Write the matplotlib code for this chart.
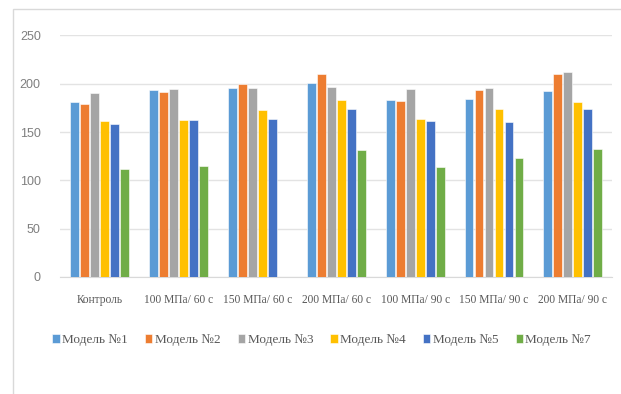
import numpy as np
import matplotlib.pyplot as plt
from matplotlib.patches import Rectangle

# Группы (режимы обработки) и значения по моделям
groups = ["Контроль", "100 МПа/ 60 с", "150 МПа/ 60 с", "200 МПа/ 60 с",
          "100 МПа/ 90 с", "150 МПа/ 90 с", "200 МПа/ 90 с"]
series_names = ["Модель №1", "Модель №2", "Модель №3",
                "Модель №4", "Модель №5", "Модель №7"]
model1 = [181, 194, 196, 201, 183, 184, 192]
model2 = [179, 191, 200, 210, 182, 194, 210]
model3 = [190, 195, 196, 197, 195, 196, 212]
model4 = [161, 163, 173, 183, 164, 174, 181]
model5 = [158, 163, 164, 174, 161, 160, 174]
model7 = [112, 115, np.nan, 131, 114, 123, 132]
colors = ["#5B9BD5", "#ED7D31", "#A5A5A5", "#FFC000", "#4472C4", "#70AD47"]
yticks = [0, 50, 100, 150, 200, 250]

series = [model1, model2, model3, model4, model5, model7]

fig = plt.figure(figsize=(6.21, 3.94), dpi=100)
ax = fig.add_axes([0.097, 0.297, 0.889, 0.613])

x = np.arange(len(groups))
pitch = 0.127
width = 0.112
for i, (vals, name, c) in enumerate(zip(series, series_names, colors)):
    offs = (i - (len(series) - 1) / 2) * pitch
    ax.bar(x + offs, vals, width, color=c, label=name,
           edgecolor="white", linewidth=0.4, zorder=3)

ax.set_xlim(-0.5, len(groups) - 0.5)
ax.set_ylim(0, 250)
ax.set_yticks(yticks)
ax.yaxis.grid(True, color="#E3E3E3", linewidth=1.0, zorder=0)
ax.set_axisbelow(True)
for s in ["top", "right", "left"]:
    ax.spines[s].set_visible(False)
ax.spines["bottom"].set_color("#D9D9D9")
ax.tick_params(axis="both", length=0, colors="#595959")
ax.tick_params(axis="y", pad=14)
ax.tick_params(axis="x", pad=12)
ax.set_xticks(x)
ax.set_xticklabels(groups, fontsize=8.3, family="Liberation Serif", color="#595959")
for lab in ax.get_yticklabels():
    lab.set_family(["Liberation Sans Narrow", "Liberation Sans"])
    lab.set_fontsize(9)
    lab.set_color("#7F7F7F")

leg = fig.legend(loc="center", bbox_to_anchor=(0.518, 0.137), ncol=6,
                 frameon=False, handlelength=0.55, handleheight=0.65,
                 handletextpad=0.2, columnspacing=1.3,
                 prop={"family": "Liberation Serif", "size": 9.5})
for t in leg.get_texts():
    t.set_color("#595959")

# рамка вокруг области диаграммы
fig.patches.append(Rectangle((13 / 621, -0.01), 1.0, 1 - 9 / 394 + 0.01,
                             transform=fig.transFigure, fill=False,
                             edgecolor="#D9D9D9", linewidth=1.0))

fig.savefig("out.png", dpi=100)
